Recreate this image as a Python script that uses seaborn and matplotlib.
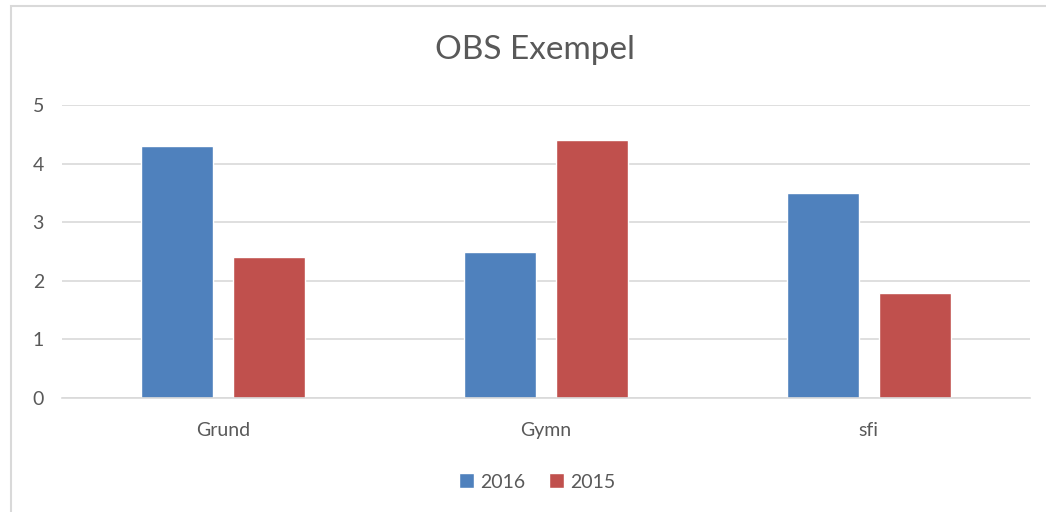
import matplotlib.pyplot as plt
import pandas as pd
import seaborn as sns
from matplotlib.patches import Rectangle

# data
categories = ['Grund', 'Gymn', 'sfi']
years = ['2016', '2015']
values_2016 = [4.3, 2.5, 3.5]
values_2015 = [2.4, 4.4, 1.8]

df = pd.DataFrame({
    'kategori': categories * 2,
    'år': [years[0]] * 3 + [years[1]] * 3,
    'värde': values_2016 + values_2015,
})

sns.set_theme(style='white')
plt.rcParams['font.family'] = ['Lato', 'DejaVu Sans']
text_grey = '#595959'
grid_grey = '#D9D9D9'

fig = plt.figure(figsize=(10.46, 5.12), dpi=100)
ax = fig.add_axes([62 / 1046, 1 - 398 / 512, (1030 - 62) / 1046, (398 - 105) / 512])

sns.barplot(data=df, x='kategori', y='värde', hue='år', hue_order=years,
            palette=['#4F81BD', '#C0504D'], width=0.57, gap=0.218,
            saturation=1, ax=ax, legend=True)

ax.set_ylim(0, 5)
ax.set_yticks(range(6))
ax.set_xlim(-0.5, 2.5)
ax.yaxis.grid(True, color=grid_grey, linewidth=1.2)
ax.set_axisbelow(True)
for side in ['top', 'right', 'left']:
    ax.spines[side].set_visible(False)
ax.spines['bottom'].set_color(grid_grey)
ax.spines['bottom'].set_linewidth(1.2)
ax.tick_params(axis='both', length=0, colors=text_grey, labelsize=14)
ax.tick_params(axis='x', pad=17)
ax.tick_params(axis='y', pad=13)
ax.set_xlabel('')
ax.set_ylabel('')

fig.text(535 / 1046, 1 - 50 / 512, 'OBS Exempel', ha='center', va='center',
         fontsize=24, color=text_grey)

ax.legend(loc='center', bbox_to_anchor=(537 / 1046, 1 - 482 / 512),
          bbox_transform=fig.transFigure, ncol=2, frameon=False,
          fontsize=14, labelcolor=text_grey, handlelength=0.8, handleheight=0.8,
          handletextpad=0.3, columnspacing=1.2)

# light outer chart border (only top and left edges fall inside the image)
fig.patches.append(Rectangle((11 / 1046, -0.1), 1.2, 1 - 6 / 512 + 0.1,
                             transform=fig.transFigure, fill=False,
                             edgecolor=grid_grey, linewidth=1.5))

fig.savefig('out.png', dpi=100)
